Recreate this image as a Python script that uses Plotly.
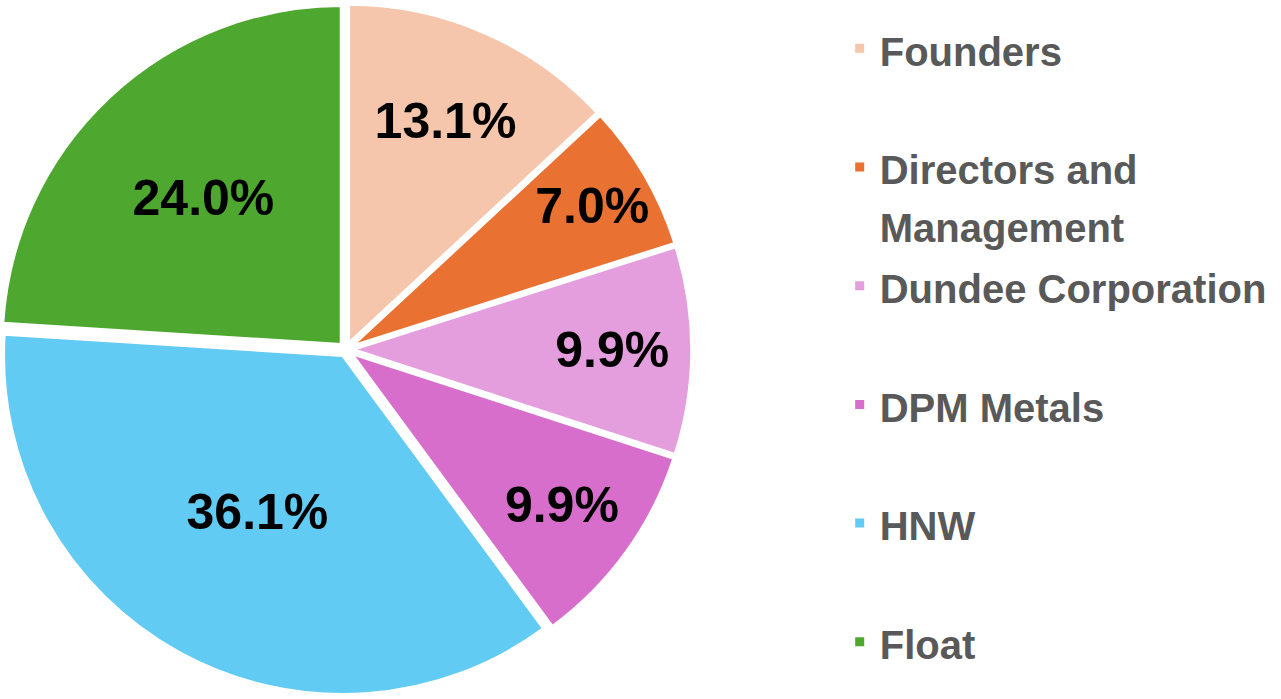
import plotly.graph_objects as go

categories = ["Founders", "Directors and Management", "Dundee Corporation",
              "DPM Metals", "HNW", "Float"]
shares = [13.1, 7.0, 9.9, 9.9, 36.1, 24.0]
colors = ["#F6C6AC", "#E97132", "#E59EDD", "#D86ECC", "#61CBF3", "#4EA72E"]

LEGEND_TEXT_PX = 40


def legend_label(name, is_last):
    # wrap the long name as the original legend does; pad the short ones so
    # that every entry takes the same vertical slot
    if name == "Directors and Management":
        parts = ["Directors and", "Management"]
    elif is_last:
        parts = [name]
    else:
        parts = [name, "\u00a0"]
    return "<br>".join(
        f"<span style='font-size:{LEGEND_TEXT_PX}px'>{p}</span>" for p in parts)


labels = [legend_label(c, i == len(categories) - 1) for i, c in enumerate(categories)]

fig = go.Figure(go.Pie(
    labels=labels,
    values=shares,
    sort=False,
    direction="clockwise",
    rotation=0,
    pull=[0.02] * len(shares),
    marker=dict(colors=colors, line=dict(color="white", width=3)),
    texttemplate="%{value:.1f}%",
    textposition="inside",
    insidetextorientation="horizontal",
    textfont=dict(family="Liberation Sans, Arial, sans-serif", size=50, color="black", weight="bold"),
    domain=dict(x=[0, 0.54], y=[0, 1]),
    hovertemplate="%{customdata}: %{value:.1f}%<extra></extra>",
    customdata=categories,
))

fig.update_layout(
    width=1281, height=699,
    margin=dict(l=0, r=0, t=0, b=0),
    paper_bgcolor="white",
    plot_bgcolor="white",
    uniformtext=dict(minsize=50, mode="show"),
    legend=dict(
        x=0.6555, y=0.9816, xanchor="left", yanchor="top",
        font=dict(family="Liberation Sans, Arial, sans-serif", size=44.5, color="#595959", weight="bold"),
        valign="top",
        traceorder="normal",
    ),
)

fig.write_html("out.html", config={"displayModeBar": False},
               post_script="document.body.style.margin='0px';")
